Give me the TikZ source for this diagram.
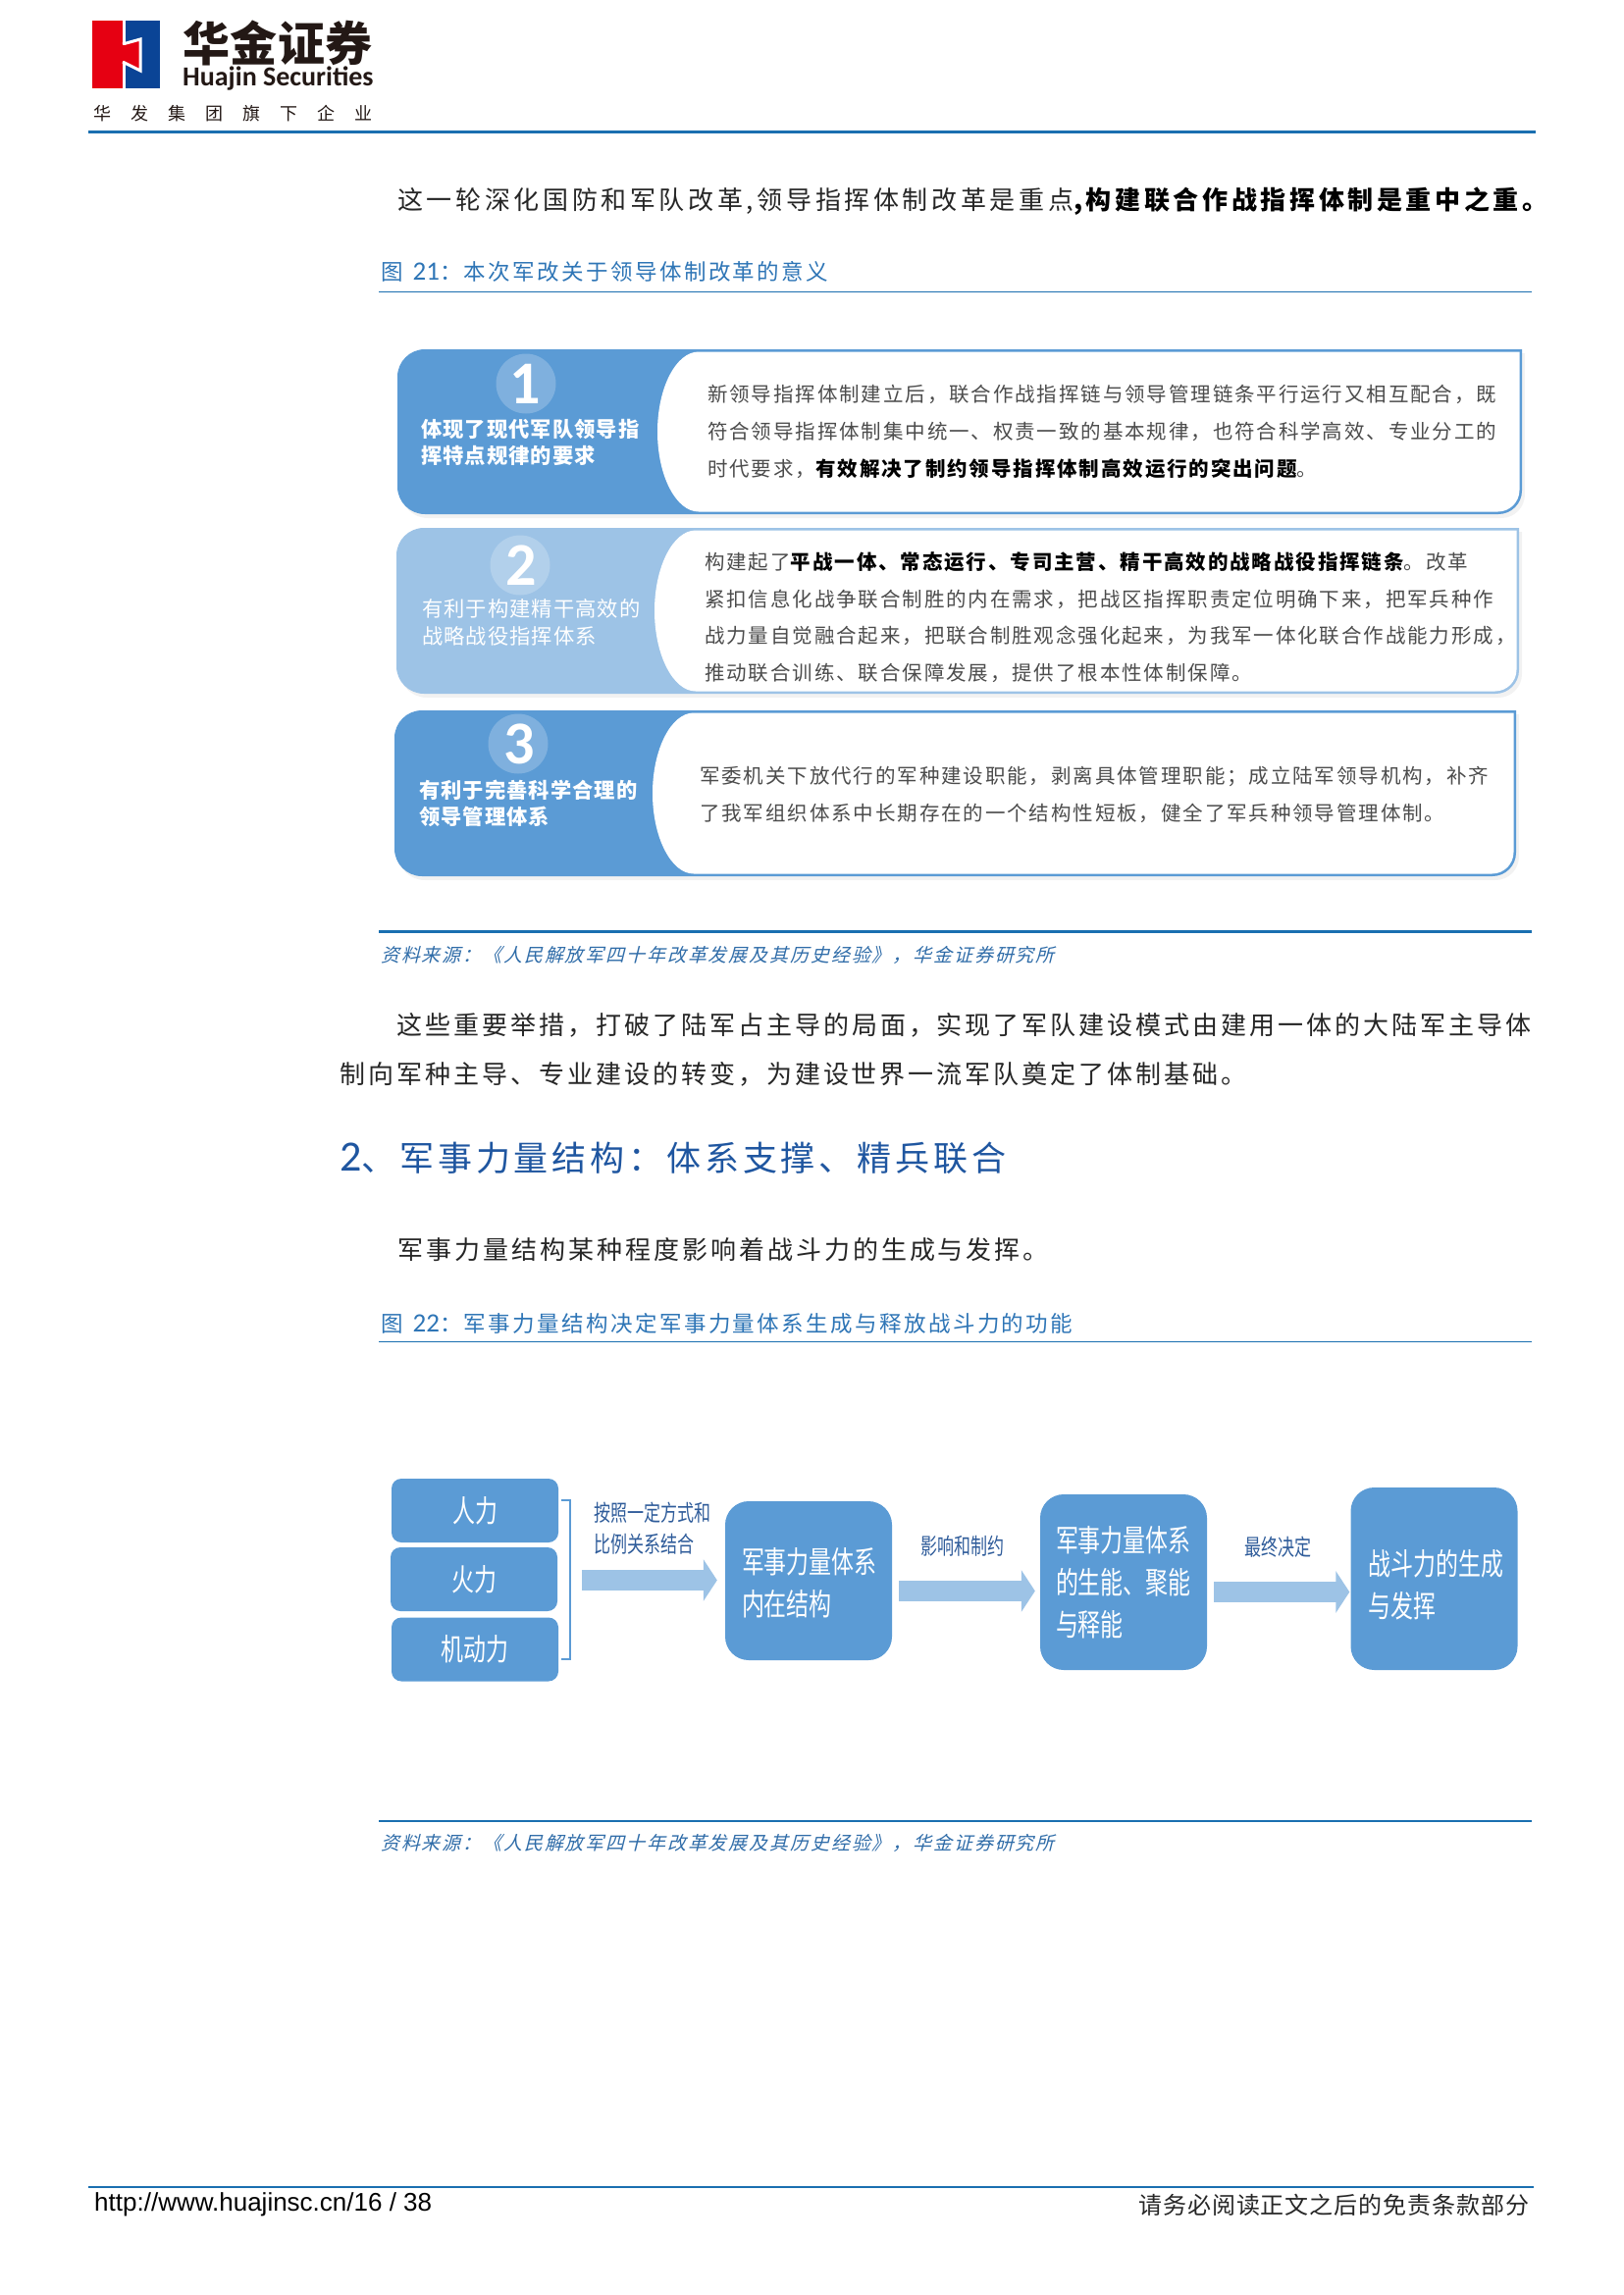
\documentclass[tikz,border=0pt]{standalone}
\usepackage{fontspec}
\usepackage{xcolor}
\usetikzlibrary{arrows.meta, shadows}

\setmainfont{Liberation Sans}
\newfontfamily\cnbody[LetterSpace=11.5]{Noto Sans CJK SC}
\newfontfamily\cnfirst[LetterSpace=14]{Noto Sans CJK SC}
\newfontfamily\cncap[LetterSpace=10.7]{Noto Sans CJK SC}
\newfontfamily\cnsrc[LetterSpace=9.8,FakeSlant=0.25]{Noto Sans CJK SC}
\newfontfamily\cnhead[LetterSpace=11]{Noto Sans CJK SC}
\newfontfamily\cnpanel[LetterSpace=9.2]{Noto Sans CJK SC}
\newfontfamily\cnside[LetterSpace=4.8]{Noto Sans CJK SC}
\newfontfamily\cnbox[FakeStretch=0.74]{Noto Sans CJK SC}
\newfontfamily\cnlabel[FakeStretch=0.74]{Noto Sans CJK SC}
\newfontfamily\cnfoot[LetterSpace=4]{Noto Sans CJK SC}
\newfontfamily\cnlogo[LetterSpace=1]{Noto Sans CJK SC}
\newfontfamily\cnwide[LetterSpace=111]{Noto Sans CJK SC}
\newfontfamily\latcap{Carlito}

\definecolor{panelblue}{HTML}{5B9BD5}
\definecolor{panellight}{HTML}{9DC3E6}
\definecolor{rulecolor}{HTML}{1A6FB0}
\definecolor{capcolor}{HTML}{2E75B6}
\definecolor{headcolor}{HTML}{1F56A0}
\definecolor{srccolor}{HTML}{2F6CA8}
\definecolor{labelcolor}{HTML}{2F5C9A}
\definecolor{logored}{HTML}{E60012}
\definecolor{logoblue}{HTML}{0A4496}
\definecolor{logoink}{HTML}{231815}

\tikzset{
    plaintext/.style={anchor=west, inner sep=0pt},
    bodytext/.style={plaintext, text=black!85, font=\cnbody\fontsize{26}{30}\selectfont},
    captext/.style={plaintext, text=capcolor, font=\cncap\fontsize{22.5}{26}\selectfont},
    srctext/.style={plaintext, text=srccolor, font=\cnsrc\fontsize{19}{22}\selectfont},
    paneltext/.style={plaintext, align=left, text=black!70, font=\cnpanel\fontsize{20.5}{38}\selectfont},
    sidetext/.style={plaintext, align=left, text=white, font=\cnside\bfseries\fontsize{21.3}{27}\selectfont},
    numcircle/.style={circle, minimum size=61pt, inner sep=0pt, fill=white, fill opacity=0.22, text opacity=1},
    numtext/.style={inner sep=0pt, text=white, font=\latcap\bfseries\fontsize{62}{62}\selectfont},
    smallbox/.style={rectangle, rounded corners=10pt, fill=panelblue, minimum width=170pt, minimum height=65pt, inner sep=0pt, text=white, font=\cnbox\fontsize{31}{34}\selectfont},
    flowbox/.style={rectangle, rounded corners=24pt, fill=panelblue, inner sep=0pt, align=left, text=white, font=\cnbox\fontsize{31}{43}\selectfont},
    flowlabel/.style={plaintext, align=left, text=labelcolor, font=\cnlabel\fontsize{23}{32}\selectfont},
    flowarrow/.style={draw=panellight, line width=21pt, -{Triangle[length=14pt, width=42pt]}},
    rule/.style={draw=rulecolor, line width=2.5pt},
    thinrule/.style={draw=rulecolor, line width=1.3pt}
}

% left, top, right, bottom, left edge of the white part, colour
\newcommand{\panelbody}[6]{
    \fill[#6, drop shadow={opacity=0.10, shadow xshift=3pt, shadow yshift=-4pt}] (#1+100,#2) -- (#3,#2) [rounded corners=24pt] -- (#3,#4) [rounded corners=28pt] -- (#1,#4) -- (#1,#2) -- cycle;
    \fill[white] (#5+42,#2+2.5) -- (#3-2.5,#2+2.5) [rounded corners=22pt] -- (#3-2.5,#4-2.5) [sharp corners] -- (#5+42,#4-2.5)
        .. controls (#5+19,#4-2.5) and (#5,#4*0.5+#2*0.5+45) .. (#5,#4*0.5+#2*0.5)
        .. controls (#5,#4*0.5+#2*0.5-45) and (#5+19,#2+2.5) .. (#5+42,#2+2.5) -- cycle;
}

\begin{document}
\begin{tikzpicture}[x=1pt, y=-1pt]
    \useasboundingbox (0,0) rectangle (1654,2339);

    % page head
    \fill[logored] (94,21) rectangle (125,90);
    \fill[logoblue] (128,21) rectangle (163,90);
    \draw[white, line width=3pt, fill=logored, line join=miter] (125,45) -- (143,40) -- (143,72) -- (125,63);
    \fill[logored] (120,46) rectangle (127,62);
    \node[plaintext, text=logoink, font=\cnlogo\bfseries\fontsize{48}{48}\selectfont] (logoname) at (186,44) {华金证券};
    \node[plaintext, text=logoink, font=\latcap\bfseries\fontsize{28}{28}\selectfont] (logolatin) at (186,80) {Huajin Securities};
    \node[plaintext, text=logoink, font=\cnwide\fontsize{18}{18}\selectfont] (logosub) at (95,115.5) {华发集团旗下企业};
    \draw[rule, line width=3pt] (90,134.5) -- (1565,134.5);

    \node[plaintext, text=black!85, font=\cnfirst\fontsize{26}{30}\selectfont] (intro) at (405,205) {这一轮深化国防和军队改革,领导指挥体制改革是重点{\bfseries\color{black},构建联合作战指挥体制是重中之重。}};

    % figure 21
    \node[captext] (cap21) at (388,277) {图\hspace{10pt}{\latcap\fontsize{27}{27}\selectfont 21}：本次军改关于领导体制改革的意义};
    \draw[thinrule] (386,297.5) -- (1561,297.5);

    \panelbody{405}{356}{1551}{524}{670}{panelblue}
    \panelbody{404}{538}{1548}{707}{667}{panellight}
    \panelbody{402}{724}{1545}{893}{665}{panelblue}

    \node[numcircle] (circ1) at (536,391) {};
    \node[numtext] (num1) at (535,391) {1};
    \node[numcircle] (circ2) at (530,576) {};
    \node[numtext] (num2) at (531,576) {2};
    \node[numcircle] (circ3) at (528,758) {};
    \node[numtext] (num3) at (529,758) {3};

    \node[sidetext] (side1) at (429,450.5) {体现了现代军队领导指\\挥特点规律的要求};
    \node[sidetext, font=\cnside\fontsize{21.3}{28}\selectfont] (side2) at (430,634) {有利于构建精干高效的\\战略战役指挥体系};
    \node[sidetext] (side3) at (427,818.5) {有利于完善科学合理的\\领导管理体系};

    \node[paneltext] (text1) at (721,440) {新领导指挥体制建立后，联合作战指挥链与领导管理链条平行运行又相互配合，既\\符合领导指挥体制集中统一、权责一致的基本规律，也符合科学高效、专业分工的\\时代要求，{\bfseries\color{black}有效解决了制约领导指挥体制高效运行的突出问题}。};
    \node[paneltext, font=\cnpanel\fontsize{20.5}{37.5}\selectfont] (text2) at (718,629) {构建起了{\bfseries\color{black}平战一体、常态运行、专司主营、精干高效的战略战役指挥链条}。改革\\紧扣信息化战争联合制胜的内在需求，把战区指挥职责定位明确下来，把军兵种作\\战力量自觉融合起来，把联合制胜观念强化起来，为我军一体化联合作战能力形成，\\推动联合训练、联合保障发展，提供了根本性体制保障。};
    \node[paneltext] (text3) at (713,810) {军委机关下放代行的军种建设职能，剥离具体管理职能；成立陆军领导机构，补齐\\了我军组织体系中长期存在的一个结构性短板，健全了军兵种领导管理体制。};

    \draw[rule] (386,949.5) -- (1561,949.5);
    \node[srctext] (src21) at (388,973) {资料来源：《人民解放军四十年改革发展及其历史经验》，华金证券研究所};

    \node[bodytext] (para1) at (404,1045) {这些重要举措，打破了陆军占主导的局面，实现了军队建设模式由建用一体的大陆军主导体};
    \node[bodytext] (para2) at (346,1095) {制向军种主导、专业建设的转变，为建设世界一流军队奠定了体制基础。};

    \node[plaintext, text=headcolor, font=\cnhead\fontsize{35}{40}\selectfont] (head2) at (346,1180) {{\latcap\fontsize{44}{44}\selectfont 2}、军事力量结构：体系支撑、精兵联合};
    \node[bodytext] (para3) at (405,1274) {军事力量结构某种程度影响着战斗力的生成与发挥。};

    % figure 22
    \node[captext] (cap22) at (388,1349) {图\hspace{10pt}{\latcap\fontsize{27}{27}\selectfont 22}：军事力量结构决定军事力量体系生成与释放战斗力的功能};
    \draw[thinrule] (386,1367.5) -- (1561,1367.5);

    \node[smallbox] (manpower) at (484,1539.5) {人力\hspace{9pt}};
    \node[smallbox] (firepower) at (483,1609.5) {火力\hspace{9pt}};
    \node[smallbox] (mobility) at (484,1681) {机动力\hspace{6pt}};

    \coordinate (brktop) at (572,1529);
    \coordinate (brkbot) at (572,1691);
    \coordinate (brkmid) at (581,1610.5);
    \draw[draw=panelblue, line width=2.5pt] (brktop) -- (581,1529) -- (581,1691) -- (brkbot);

    \node[flowbox, minimum width=170pt, minimum height=162pt, text width=136pt] (structure) at (824,1611) {\rule{0pt}{31pt}军事力量体系\\内在结构};
    \node[flowbox, minimum width=170pt, minimum height=179pt, text width=138pt] (energy) at (1145,1612.5) {军事力量体系\\的生能、聚能\\与释能};
    \node[flowbox, minimum width=170pt, minimum height=186pt, text width=134pt] (combat) at (1461.5,1609) {\rule{0pt}{38pt}战斗力的生成\\与发挥};

    \draw[flowarrow, shorten <=12pt, shorten >=8pt] (brkmid) -- (structure.west |- brkmid);
    \draw[flowarrow, shorten <=7pt, shorten >=5pt] ([yshift=-10.5pt]structure.east) -- ([yshift=-9pt]energy.west);
    \draw[flowarrow, shorten <=7pt, shorten >=1pt] ([yshift=-10pt]energy.east) -- ([yshift=-13.5pt]combat.west);

    \node[flowlabel] (label1) at (605,1558) {按照一定方式和\\比例关系结合};
    \node[flowlabel] (label2) at (938,1576) {影响和制约};
    \node[flowlabel] (label3) at (1268,1577) {最终决定};

    \draw[rule] (386,1856) -- (1561,1856);
    \node[srctext] (src22) at (388,1878) {资料来源：《人民解放军四十年改革发展及其历史经验》，华金证券研究所};

    % page foot
    \draw[rule] (90,2229) -- (1563,2229);
    \node[plaintext, font=\fontsize{26}{30}\selectfont] (footurl) at (96,2247) {http://www.huajinsc.cn/16 / 38};
    \node[plaintext, text=black!85, font=\cnfoot\fontsize{24}{28}\selectfont] (footnote) at (1160,2247) {请务必阅读正文之后的免责条款部分};
\end{tikzpicture}
\end{document}
